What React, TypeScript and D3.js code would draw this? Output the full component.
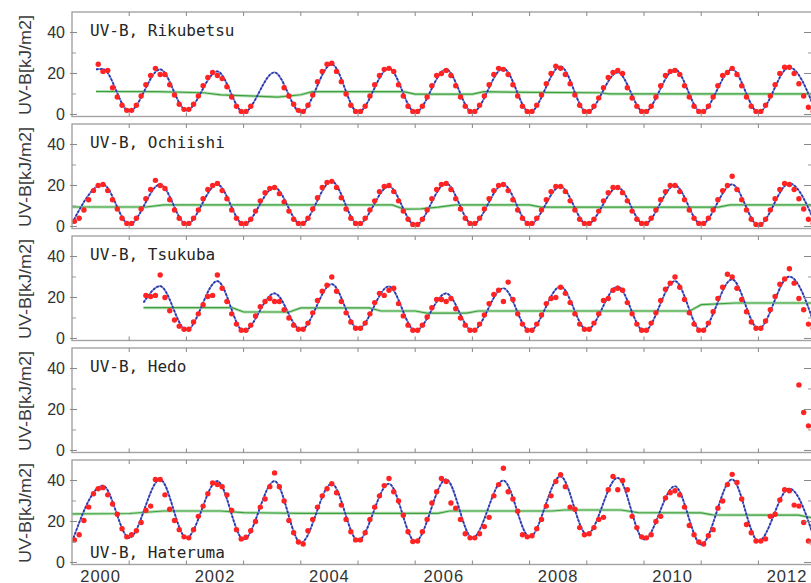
import React from 'react';
import * as d3 from 'd3';

// tick labels
const yearLabels = [2000, 2002, 2004, 2006, 2008, 2010, 2012];
const yTicks = [0, 20, 40];
const yMinor = [10, 30];

// monthly observed UV-B, one row per year (Jan..Dec), null = missing
const rikubetsuObs = [
  [null, null, null, null, null, 24.5, 21, 21.5, 13, 8.5, 4.5, 2],
  [2, 4.5, 9, 14.5, 19, 22.5, 19.5, 19.5, 14.5, 9.5, 5, 2.5],
  [2.5, 5, 9, 14, 18, 20.5, 19, 17.5, 13.5, 8.5, 4, 1.5],
  [1.5, 4, null, null, null, null, null, null, 13, 9, 5, 2],
  [1.5, 4.5, 9.5, 16, 21, 24.5, 25, 21, 16, 10, 4.5, 1.5],
  [1.5, 4, 9, 14.5, 19, 22, 22.5, 21, 14.5, 9, 4, 1.5],
  [1.5, 4, 8.5, 14, 19, 20, 21.5, 19, 14, 8.5, 4, 1.5],
  [1.5, 4.5, 9, 14.5, 19.5, 22.5, 22, 19.5, 14.5, 9, 4, 1.5],
  [1.5, 4.5, 9.5, 15, 20, 23.5, 22.5, 19.5, 15, 9.5, 4.5, 1.5],
  [1.5, 4, 8, 13, 18, 20.5, 21.5, 20, 13, 8, 4, 1.5],
  [1.5, 4, 8.5, 14, 19, 21, 21.5, 19.5, 14, 8.5, 4, 1.5],
  [1.5, 4, 8.5, 14, 19, 20.5, 22.5, 19.5, 14, 8.5, 4, 1.5],
  [1.5, 4.5, 9, 14.5, 20, 23, 23, 20, 15, 9, 3.5, 1.5],
];
const rikubetsuFit = [
  [2000.42, 22], [2000.54, 22.2], [2001, 1.5], [2001.54, 22], [2002, 2], [2002.54, 21],
  [2003, 1], [2003.54, 20.5], [2004, 1], [2004.54, 24.5], [2005, 1], [2005.54, 22.5],
  [2006, 1], [2006.54, 22], [2007, 1], [2007.54, 22.5], [2008, 1], [2008.54, 23.5],
  [2009, 1], [2009.54, 20.5], [2010, 1], [2010.54, 22], [2011, 1], [2011.54, 22],
  [2012, 1], [2012.54, 23], [2013, 1.5],
];
const rikubetsuTrend = [
  [2000.42, 11.2], [2001.5, 11.1], [2002.3, 10.6], [2002.6, 9.6], [2003.6, 8.5], [2004.0, 9.6],
  [2004.2, 11.1], [2005.8, 11.1], [2006.0, 9.9], [2007.0, 9.9], [2007.2, 11.1], [2008.0, 10.8],
  [2009.2, 10.6], [2009.4, 10.0], [2013, 10.0],
];

const ochiishiObs = [
  [2.5, 4, 8, 13, 17.5, 20, 20.5, 17.5, 13, 8.5, 4, 1.5],
  [1.5, 4, 8.5, 13.5, 18, 22.5, 20, 18.5, 13, 8, 4, 1.5],
  [1.5, 4, 8, 13.5, 18, 20, 21, 17.5, 13.5, 8, 4, 1.5],
  [1.5, 3.5, 7.5, 12.5, 16.5, 18.5, 19, 16, 12, 7.5, 3.5, 1.5],
  [1.5, 4, 8.5, 14, 19, 21.5, 22, 19, 14, 8.5, 4, 1.5],
  [1.5, 4, 8, 12.5, 17, 19.5, 20, 17, 12.5, 7.5, 3.5, 1],
  [1, 3.5, 8, 13.5, 18, 20.5, 21, 18, 13.5, 8.5, 4, 1.5],
  [1.5, 4, 8.5, 13.5, 17.5, 20, 20.5, 17.5, 13, 8, 4, 1.5],
  [1.5, 4, 8, 13, 17, 19.5, 19.5, 17, 12.5, 8, 3.5, 1.5],
  [1.5, 3.5, 7.5, 12.5, 16.5, 19, 19, 16.5, 12.5, 7.5, 3.5, 1.5],
  [1.5, 4, 8, 13, 17, 20, 20, 17, 13, 8, 4, 1.5],
  [1.5, 4, 8, 13, 17.5, 20, 24.5, 18, 13, 8, 3.5, 1],
  [1, 3.5, 8, 13.5, 18, 21, 20.5, 18, 13.5, 8.5, 3.5, 1.5],
];
const ochiishiFit = [
  [2000, 1.5], [2000.54, 20.5], [2001, 1], [2001.54, 20.5], [2002, 1], [2002.54, 20.5],
  [2003, 1], [2003.54, 19], [2004, 1], [2004.54, 22], [2005, 1], [2005.54, 19.5],
  [2006, 0.5], [2006.54, 21], [2007, 1], [2007.54, 20.5], [2008, 1], [2008.54, 19.5],
  [2009, 1], [2009.54, 19], [2010, 1], [2010.54, 20], [2011, 1], [2011.54, 20.5],
  [2012, 0.5], [2012.54, 21], [2013, 1],
];
const ochiishiTrend = [
  [2000, 9.5], [2001.3, 9.5], [2001.6, 10.5], [2005.6, 10.5], [2005.8, 8.5], [2006.1, 8.6],
  [2006.4, 9.4], [2006.7, 10.5], [2008, 10.5], [2008.2, 9.4], [2011.3, 9.4], [2011.5, 10.5],
  [2013, 10.5],
];

const tsukubaObs = [
  [null, null, null, null, null, null, null, null, null, null, null, null],
  [null, null, null, 21, 20.5, 21, 31, 20, 13.5, 9, 6, 4.5],
  [4.5, 8, 12, 16.5, 20.5, 21, 31, 24.5, 18, 12, 7, 4],
  [4, 6.5, 11, 15.5, 18, 19.5, 18, 18, 14, 10, 6.5, 4.5],
  [4.5, 7.5, 12.5, 18.5, 23, 26, 30, 23, 18, 12.5, 8, 5],
  [5, 7.5, 12, 17.5, 22, 21, 23.5, 24.5, 17, 11, 6.5, 4],
  [4, 6.5, 10.5, 15, 19, 19, 18, 19.5, 14.5, 10, 6.5, 4],
  [4, 7, 11.5, 17, 21.5, 23.5, 18, 27.5, 19, 12, 7, 4],
  [4, 7, 11.5, 17, 19.5, 20, 25, 22, 17.5, 12, 7, 4.5],
  [4.5, 7.5, 12, 18.5, 19.5, 23.5, 24.5, 23.5, 17.5, 12, 7, 4],
  [4, 7.5, 12.5, 18.5, 24, 27, 30, 25, 19, 12.5, 7, 4],
  [4, 7.5, 13, 19.5, 25, 31.3, 30, 24.5, 19, 13, 8, 5],
  [5, 8.5, 14, 20.5, 26.5, 29, 34, 27, 19.5, 14, 7, 5],
];
const tsukubaFit = [
  [2001.25, 17.5], [2001.54, 25.5], [2002, 4], [2002.54, 28], [2003, 3.5], [2003.54, 22],
  [2004, 4.2], [2004.54, 26.5], [2005, 4.7], [2005.54, 25.4], [2006, 3.7], [2006.54, 22],
  [2007, 3.7], [2007.54, 24.5], [2008, 3.7], [2008.54, 25.3], [2009, 4.2], [2009.54, 25.3],
  [2010, 3.5], [2010.54, 28], [2011, 3.7], [2011.54, 28.8], [2012, 4.7], [2012.54, 30.2],
  [2013, 5],
];
const tsukubaTrend = [
  [2001.25, 15], [2002.8, 15], [2003, 12.9], [2003.8, 12.9], [2004, 14.9], [2005.2, 14.9],
  [2005.4, 13.4], [2006, 13.4], [2006.2, 12.4], [2006.9, 12.4], [2007.1, 13.4], [2010.8, 13.4],
  [2011, 16.5], [2011.6, 17.3], [2013, 17.3],
];

const hedoObs = [
  [null, null, null, null, null, null, null, null, 32, 18.5, 12, null],
];

const haterumaObs = [
  [11, 13.5, 20.5, 27, 33.5, 36, 36.5, 33, 28.5, 23.5, 16.5, 12.5],
  [13.5, 15.5, 19.5, 25.5, 27.5, 40.5, 40.5, 33, 26, 20.5, 16, 12.5],
  [12, 16, 22.5, 27.5, 33.5, 38.8, 38, 37, 33, 25.5, 16, 11.5],
  [12.3, 15.5, 20, 27, 31, 37, 43.7, 37, 30, 20.5, 14.5, 10],
  [9, 15.5, 21, 27, 32.5, 36, 38.4, 34, 28, 21, 15, 11],
  [11, 14.5, 21, 27, 32.5, 37.5, 41, 34.5, 30, 23, 15, 10.2],
  [10.5, 15, 21, 29, 34.5, 41, 39.5, 29, 26.5, 21, 14, 12],
  [12, 14, 17.5, 22, 32.5, 38, 46, 34.5, 31, 25, 13.5, 12.5],
  [13, 16.5, 21, 27.5, 32.5, 39.5, 42.8, 37, 27, 26, 17, 13.5],
  [14, 17, 21, 22, 35.5, 42, 35.5, 40, 35.5, 22.5, 17, 12.5],
  [12, 13.5, 20, 22.5, 31.5, 34, 35, 33, 27, 18, 13.5, 10],
  [9, 13, 16, 26.5, 30, 38, 43, 39, 31, 18.5, 14.5, 10.5],
  [10.5, 11.5, 22.5, 23.5, 30.5, 35.5, 35, 28, 27.5, 19.5, 10.5, 9],
];
const haterumaFit = [
  [2000, 10], [2000.54, 37.5], [2001, 12], [2001.54, 40.5], [2002, 12], [2002.54, 39.7],
  [2003, 11.2], [2003.54, 39.7], [2004, 9.6], [2004.54, 38.4], [2005, 10.7], [2005.54, 38.4],
  [2006, 10.2], [2006.54, 40.5], [2007, 11.9], [2007.54, 40], [2008, 12.4], [2008.54, 42],
  [2009, 13.7], [2009.54, 41.3], [2010, 11.2], [2010.54, 37.2], [2011, 8.8], [2011.54, 40.5],
  [2012, 10.4], [2012.54, 36], [2013, 9.5],
];
const haterumaTrend = [
  [2000, 23.7], [2001, 23.9], [2001.6, 25.1], [2002.6, 25.1], [2003, 24.3], [2004, 24],
  [2006.4, 24], [2006.6, 25.1], [2008.4, 25.1], [2008.6, 25.6], [2009.6, 25.6], [2009.9, 24.3],
  [2011, 24.2], [2011.2, 23.2], [2012.7, 23.1], [2013, 21.5],
];

const stations = [
  { title: 'UV-B, Rikubetsu', start: 2000, obs: rikubetsuObs, fit: rikubetsuFit, trend: rikubetsuTrend, bottomTitle: false },
  { title: 'UV-B, Ochiishi', start: 2000, obs: ochiishiObs, fit: ochiishiFit, trend: ochiishiTrend, bottomTitle: false },
  { title: 'UV-B, Tsukuba', start: 2000, obs: tsukubaObs, fit: tsukubaFit, trend: tsukubaTrend, bottomTitle: false },
  { title: 'UV-B, Hedo', start: 2012, obs: hedoObs, fit: [], trend: [], bottomTitle: false },
  { title: 'UV-B, Hateruma', start: 2000, obs: haterumaObs, fit: haterumaFit, trend: haterumaTrend, bottomTitle: true },
];

const W = 811;
const H = 583;
const left = 72;
const right = 812;
const pxPerYear = 57.2;
const top0 = 12;
const step = 112;
const panelH = 104.5;

const App = () => {
  const x = d3.scaleLinear().domain([2000, 2013]).range([left, left + 13 * pxPerYear]);
  const yearTicks = d3.range(2001, 2013);

  return (
    <svg width={W} height={H} style={{ position: 'absolute', left: 0, top: 0, background: '#fff' }}>
      <defs>
        {stations.map((s, i) => (
          <clipPath id={`clip${i}`} key={i}>
            <rect x={left} y={top0 + i * step} width={right - left} height={panelH} />
          </clipPath>
        ))}
      </defs>
      {stations.map((s, i) => {
        const top = top0 + i * step;
        const y = d3.scaleLinear().domain([-1, 50]).range([top + panelH, top]);
        const line = d3.line<number[]>().x(d => x(d[0])).y(d => y(d[1])).curve(d3.curveMonotoneX);
        const trendLine = d3.line<number[]>().x(d => x(d[0])).y(d => y(d[1]));
        const pts: { t: number; v: number }[] = [];
        s.obs.forEach((row, yi) => row.forEach((v, m) => {
          if (v != null) pts.push({ t: s.start + yi + (m + 0.5) / 12, v });
        }));
        return (
          <g key={s.title}>
            <g clipPath={`url(#clip${i})`}>
              {s.trend.length > 0 && (
                <>
                  <path d={trendLine(s.trend) || ''} fill="none" stroke="#b5e0b5" strokeWidth={3} />
                  <path d={trendLine(s.trend) || ''} fill="none" stroke="#3f9f3f" strokeWidth={1.2} />
                </>
              )}
              {s.fit.length > 0 && (
                <>
                  <path d={line(s.fit) || ''} fill="none" stroke="#7f88d8" strokeWidth={1.7} />
                  <path d={line(s.fit) || ''} fill="none" stroke="#2636a8" strokeWidth={1.7} strokeDasharray="2.5 1.5" />
                </>
              )}
              {pts.map((p, k) => (
                <circle key={k} cx={x(p.t)} cy={y(p.v)} r={2.7} fill="#ff2323" />
              ))}
            </g>
            <rect x={left} y={top} width={right - left} height={panelH} fill="none" stroke="#a3a3a3" strokeWidth={1.4} />
            {yTicks.map(t => (
              <g key={t}>
                <line x1={left - 2} x2={left + 5} y1={y(t)} y2={y(t)} stroke="#888" />
                <line x1={right - 8} x2={right} y1={y(t)} y2={y(t)} stroke="#888" />
                <text x={65} y={y(t)} dy="0.36em" textAnchor="end" fontSize={16} fill="#333"
                  fontFamily="'Liberation Sans', Arial, sans-serif">{t}</text>
              </g>
            ))}
            {yMinor.map(t => (
              <g key={t}>
                <line x1={left} x2={left + 4} y1={y(t)} y2={y(t)} stroke="#999" />
                <line x1={right - 4} x2={right} y1={y(t)} y2={y(t)} stroke="#999" />
              </g>
            ))}
            {yearTicks.map(t => (
              <g key={t}>
                <line x1={x(t)} x2={x(t)} y1={top} y2={top + 4} stroke="#888" />
                <line x1={x(t)} x2={x(t)} y1={top + panelH} y2={top + panelH - 4} stroke="#888" />
              </g>
            ))}
            <text x={90} y={s.bottomTitle ? top + 98 : top + 24} fontSize={16} fill="#262626"
              fontFamily="'DejaVu Sans Mono', monospace">{s.title}</text>
            <text transform={`translate(31,${top + 53}) rotate(-90)`} textAnchor="middle" fontSize={16.5}
              fill="#3a3a3a" fontFamily="'Liberation Sans', Arial, sans-serif"
              textLength={100} lengthAdjust="spacingAndGlyphs">UV-B[kJ/m2]</text>
          </g>
        );
      })}
      {yearLabels.map(yr => (
        <text key={yr} x={x(yr + 0.5)} y={581.5} textAnchor="middle" fontSize={16.5} letterSpacing={1}
          fill="#333" fontFamily="'Liberation Sans', Arial, sans-serif">{yr}</text>
      ))}
    </svg>
  );
};

export default App;
